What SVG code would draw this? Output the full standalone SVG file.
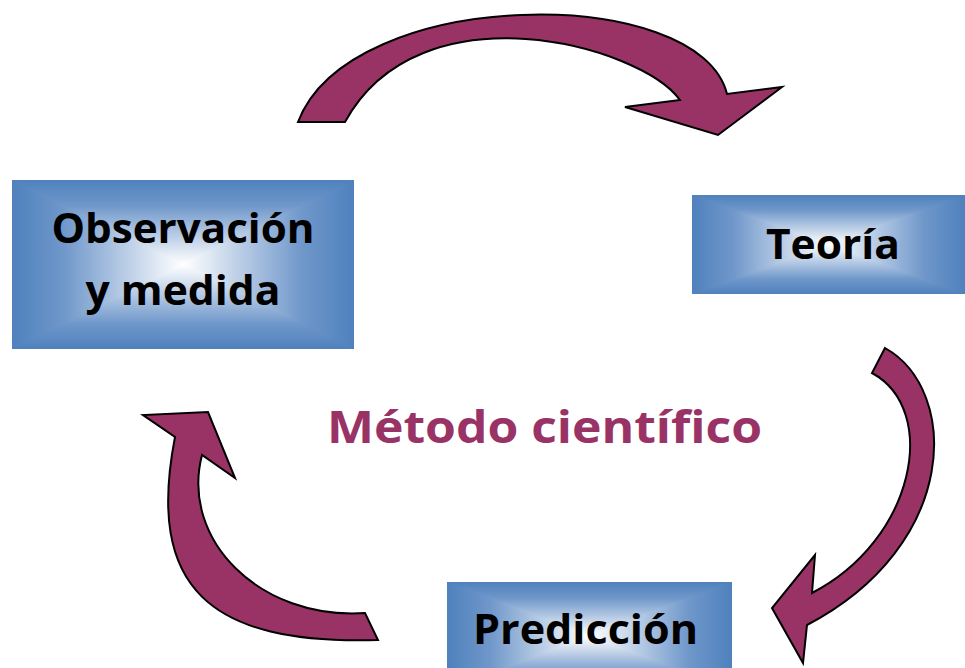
<svg xmlns="http://www.w3.org/2000/svg" width="965" height="668" viewBox="0 0 965 668">
<defs>
<linearGradient id="gT" x1="0" y1="0" x2="0" y2="1"><stop offset="0" stop-color="#4F81BD"/><stop offset="0.3" stop-color="#6F97CA"/><stop offset="1" stop-color="#FFFFFF"/></linearGradient>
<linearGradient id="gB" x1="0" y1="1" x2="0" y2="0"><stop offset="0" stop-color="#4F81BD"/><stop offset="0.3" stop-color="#6F97CA"/><stop offset="1" stop-color="#FFFFFF"/></linearGradient>
<linearGradient id="gH" x1="0" y1="0" x2="1" y2="0"><stop offset="0" stop-color="#4F81BD"/><stop offset="0.15" stop-color="#6F97CA"/><stop offset="0.5" stop-color="#FFFFFF"/><stop offset="0.85" stop-color="#6F97CA"/><stop offset="1" stop-color="#4F81BD"/></linearGradient>
</defs>
<style>
.arrow{fill:#993366;stroke:#000;stroke-width:2;stroke-linejoin:miter}
.lbl{font-family:"Open Sans","Liberation Sans",sans-serif;font-weight:700;fill:#000;text-anchor:middle}
.title{font-family:"Open Sans","Liberation Sans",sans-serif;font-weight:700;fill:#993366;text-anchor:middle}
</style>
<rect width="965" height="668" fill="#fff"/>
<g id="connectors">
<path class="arrow" d="M298,122 C350,-15 700,-17 727,94 L782,87 L718,135 L625,107 L680,100 C640,45 420,-15 345,122 Z"/>
<path class="arrow" d="M885,348 C960,390 960,545 807,625 L803,663 L772,608 L815,555 L812,593 C915,540 940,410 872,373 Z"/>
<path class="arrow" d="M378,640 C208,645 146,587 175,437 L143,415 L208,412 L235,478 L202,455 C180,540 260,620 365,613 Z"/>
</g>
<g id="obs">
<rect x="12" y="180" width="342" height="169" fill="url(#gH)"/>
<polygon points="12,180 354,180 183,264.5" fill="url(#gT)"/>
<polygon points="12,349 354,349 183,264.5" fill="url(#gB)"/>
<text class="lbl" x="183" y="243" font-size="42" textLength="263" lengthAdjust="spacingAndGlyphs">Observación</text>
<text class="lbl" x="183" y="305" font-size="42" textLength="195" lengthAdjust="spacingAndGlyphs">y medida</text>
</g>
<g id="teoria">
<rect x="692" y="195" width="273" height="99" fill="url(#gH)"/>
<polygon points="692,195 965,195 828.5,244.5" fill="url(#gT)"/>
<polygon points="692,294 965,294 828.5,244.5" fill="url(#gB)"/>
<text class="lbl" x="833" y="259" font-size="42" textLength="134" lengthAdjust="spacingAndGlyphs">Teoría</text>
</g>
<g id="prediccion">
<rect x="447" y="582" width="285" height="108" fill="url(#gH)"/>
<polygon points="447,582 732,582 589.5,636" fill="url(#gT)"/>
<polygon points="447,690 732,690 589.5,636" fill="url(#gB)"/>
<text class="lbl" x="585.5" y="644" font-size="42" textLength="225" lengthAdjust="spacingAndGlyphs">Predicción</text>
</g>
<g id="title">
<text class="title" x="544.5" y="443" font-size="44" textLength="435" lengthAdjust="spacingAndGlyphs">Método científico</text>
</g>
</svg>
